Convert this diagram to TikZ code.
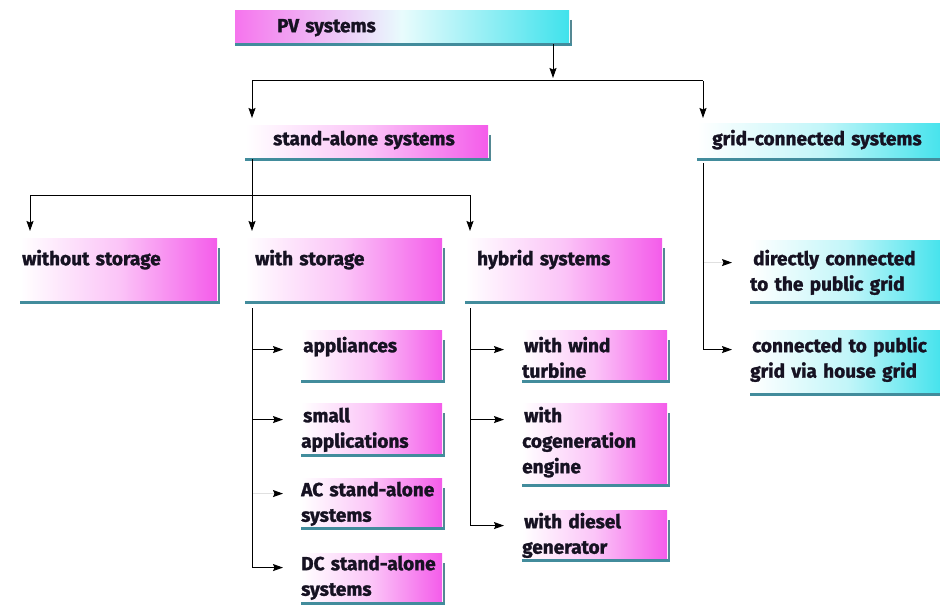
\documentclass[tikz,border=0pt]{standalone}
\usepackage{fontspec}
\setmainfont{Fira Sans}[BoldFeatures={FakeBold=1.4}]
\usetikzlibrary{arrows.meta, calc, positioning}

\definecolor{boxpink}{RGB}{244,92,234}
\definecolor{boxcyan}{RGB}{64,226,236}
\definecolor{rulecol}{RGB}{66,140,156}
\definecolor{inkcol}{RGB}{22,18,34}

\tikzset{
  box/.style={anchor=north west, inner sep=0pt, align=left, text=inkcol,
    font=\bfseries\fontsize{19}{25.5}\selectfont},
  pinkbox/.style={box, left color=white, right color=boxpink, middle color=boxpink!36},
  cyanbox/.style={box, left color=white, right color=boxcyan, middle color=boxcyan!32},
  topbox/.style={box, left color=boxpink!85, right color=boxcyan, middle color=boxcyan!12},
  indent/.style={execute at begin node={\hspace*{#1}}},
  bottomrule/.style={draw=rulecol, line width=2.5pt},
  shadowline/.style={draw=rulecol!70!gray, line width=2pt},
  plainline/.style={draw=black, line width=1pt},
  arrowline/.style={plainline, -{Stealth[length=10pt,width=7pt,inset=1.5pt]}},
  faint/.style={draw=black!12, line width=1pt, -{Stealth[black,length=10pt,width=7pt,inset=1.5pt]}}
}

\begin{document}
\begin{tikzpicture}[x=1pt, y=-1pt]
    \useasboundingbox (0,0) rectangle (940,607);

    % top level
    \node[topbox, text width=334pt, text height=22pt, text depth=12pt, indent=42pt] (pv) at (235,10) {PV systems};
    \node[pinkbox, text width=243pt, text height=20pt, text depth=14pt, indent=28pt] (sa) at (245,125) {stand-alone systems};
    \node[cyanbox, text width=250pt, text height=22pt, text depth=14pt, indent=15pt] (gc) at (697,123) {grid-connected systems};

    % stand-alone branch
    \node[pinkbox, text width=197pt, text height=27pt, text depth=37pt, indent=2pt] (wo) at (20,238) {without storage};
    \node[pinkbox, text width=197pt, text height=27pt, text depth=37pt, indent=10pt] (ws) at (245,238) {with storage};
    \node[pinkbox, text width=197pt, text height=27pt, text depth=37pt, indent=12pt] (hy) at (465,238) {hybrid systems};

    % with storage
    \node[pinkbox, text width=141pt, text height=22pt, text depth=29pt, indent=2pt] (ap) at (301,330) {appliances};
    \node[pinkbox, text width=141pt, text height=19pt, text depth=33pt, indent=2pt] (sm) at (301,403) {small\\applications};
    \node[pinkbox, text width=141pt, text height=18pt, text depth=32pt] (ac) at (301,478) {AC stand-alone\\systems};
    \node[pinkbox, text width=141pt, text height=17pt, text depth=33pt] (dc) at (301,553) {DC stand-alone\\systems};

    % hybrid
    \node[pinkbox, text width=145pt, text height=22pt, text depth=29pt, indent=2pt] (wt) at (522,330) {with wind\\turbine};
    \node[pinkbox, text width=145pt, text height=19pt, text depth=63pt, indent=2pt] (co) at (522,403) {with\\cogeneration\\engine};
    \node[pinkbox, text width=145pt, text height=18pt, text depth=32pt, indent=2pt] (di) at (522,510) {with diesel\\generator};

    % grid-connected
    \node[cyanbox, text width=195pt, text height=25pt, text depth=37pt, indent=3pt] (dir) at (750,240) {directly connected\\to the public grid};
    \node[cyanbox, text width=195pt, text height=22pt, text depth=42pt, indent=2pt] (hg) at (750,330) {connected to public\\grid via house grid};

    % box edges
    \foreach \n in {pv,sa,gc,wo,ws,hy,ap,sm,ac,dc,wt,co,di,dir,hg} {
        \draw[shadowline] ([xshift=1.5pt,yshift=-10pt]\n.north east) -- ([xshift=1.5pt]\n.south east);
        \draw[bottomrule] (\n.south west) -- ([xshift=2.5pt]\n.south east);
    }

    % buses
    \coordinate (pvbus) at (553,81);
    \coordinate (sacol) at (252,81);
    \coordinate (gccol) at (703,81);
    \coordinate (sabus) at (252,195);
    \coordinate (wocol) at (30,195);
    \coordinate (hycol) at (470,195);

    \draw[arrowline, shorten >=3pt] (pv.south -| pvbus) -- (pvbus);
    \draw[plainline] (sacol) -- (gccol);
    \draw[arrowline, shorten >=7pt] (sacol) -- (sacol |- sa.north);
    \draw[arrowline, shorten >=5pt] (gccol) -- (gccol |- gc.north);

    \draw[plainline] (sa.south -| sabus) -- (sabus);
    \draw[plainline] (wocol) -- (hycol);
    \draw[arrowline, shorten >=7pt] (wocol) -- (wocol |- wo.north);
    \draw[arrowline, shorten >=7pt] (sabus) -- (sabus |- ws.north);
    \draw[arrowline, shorten >=7pt] (hycol) -- (hycol |- hy.north);

    % faint stubs
    \draw[faint, shorten >=18pt] (sabus |- ac.mid west) -- (ac.mid west);
    \draw[faint, shorten >=18pt] (gccol |- dir.mid west) -- (dir.mid west);

    \draw[arrowline, shorten >=18pt] ([yshift=-6pt]sabus |- ws.south) |- (ap.mid west);
    \draw[arrowline, shorten >=18pt] ([yshift=-6pt]sabus |- ws.south) |- (sm.mid west);
    \draw[arrowline, shorten >=18pt] ([yshift=-6pt]sabus |- ws.south) |- (dc.mid west);

    \draw[arrowline, shorten >=18pt] ([yshift=-6pt]hycol |- hy.south) |- (wt.mid west);
    \draw[arrowline, shorten >=18pt] ([yshift=-6pt]hycol |- hy.south) |- (co.mid west);
    \draw[arrowline, shorten >=18pt] ([yshift=-6pt]hycol |- hy.south) |- (di.mid west);

    \draw[arrowline, shorten >=18pt] ([yshift=-4pt]gccol |- gc.south) |- (hg.mid west);
\end{tikzpicture}
\end{document}
